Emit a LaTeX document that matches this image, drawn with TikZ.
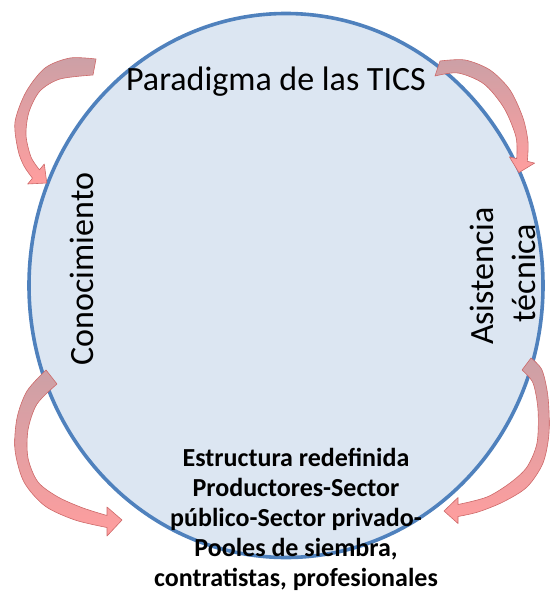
\documentclass[tikz,border=0pt]{standalone}
\usepackage{fontspec}
\setmainfont{Carlito}
\definecolor{ovalfill}{RGB}{220,230,242}
\definecolor{ovalline}{RGB}{79,129,189}
\definecolor{arrowtop}{RGB}{204,160,166}
\definecolor{arrowbot}{RGB}{255,158,158}
\definecolor{arrowline}{RGB}{205,105,105}
\begin{document}
\begin{tikzpicture}
	[x=1pt,y=-1pt,
	bigtext/.style={inner sep=0pt, font=\fontsize{34}{41}\selectfont},
	boldtext/.style={inner sep=0pt, align=center,
		font=\fontsize{26}{30}\selectfont\bfseries},
	curvearrow/.style={draw=arrowline, line width=0.6pt,
		top color=arrowtop, bottom color=arrowbot, line join=round}]
	\useasboundingbox (0,0) rectangle (550,594);

	% the oval
	\draw[ovalline, fill=ovalfill, line width=3.6pt] (286,285.5) ellipse [x radius=257pt, y radius=272pt];

	% curved arrows
	\draw[curvearrow] plot[smooth] coordinates {(96,59) (70,58) (45,68) (26,92) (15,122) (18,150) (24,166) (32.5,178.2)}
		-- (27.7,184) -- (46.8,183) -- (44.3,164) -- (39.5,169.8)
		-- plot[smooth] coordinates {(39.5,169.8) (31,157) (26,135) (29,112) (40,91) (60,79) (93,75)} -- cycle;
	\draw[curvearrow] plot[smooth] coordinates {(440,61) (465,60) (490,70) (510,90) (523,118) (528,142) (527.3,161.3)}
		-- (534.6,163.1) -- (518.9,172.6) -- (509.4,156.9) -- (516.7,158.7)
		-- plot[smooth] coordinates {(516.7,158.7) (516,137) (504,108) (484,84) (458,73) (435,76)} -- cycle;
	\draw[curvearrow] plot[smooth] coordinates {(46,370) (27,391) (17,418) (15,450) (24,482) (45,506) (75,520) (107,527.5)}
		-- (107,536) -- (122,520) -- (107,507) -- (107,515.5)
		-- plot[smooth] coordinates {(107,515.5) (83,508) (58,497) (38,482) (28,458) (28,430) (37,404) (57,384)} -- cycle;
	\draw[curvearrow] plot[smooth] coordinates {(531,358) (542,370) (548,397) (549,433) (543,463) (527,487) (503,502) (478,512) (458,516.5)}
		-- (458,523.5) -- (444,511) -- (458,497.5) -- (458,504.5)
		-- plot[smooth] coordinates {(458,504.5) (487,497) (510,483) (527,467) (537,443) (538,410) (533,383) (522,370)} -- cycle;

	% texts
	\node[bigtext, anchor=base] (tics) at (276,90) {Paradigma de las TICS};
	\node[bigtext, rotate=90, anchor=base] (conoc) at (93,269) {Conocimiento};
	\node[bigtext, rotate=90, anchor=base] (asist) at (493,276) {Asistencia};
	\node[bigtext, rotate=90, anchor=base] (tecn) at (535,273) {técnica};
	\node[boldtext, anchor=north] (estr) at (296,448) {Estructura redefinida\\
		Productores-Sector\\
		público-Sector privado-\\
		Pooles de siembra,\\
		contratistas, profesionales};
\end{tikzpicture}
\end{document}
